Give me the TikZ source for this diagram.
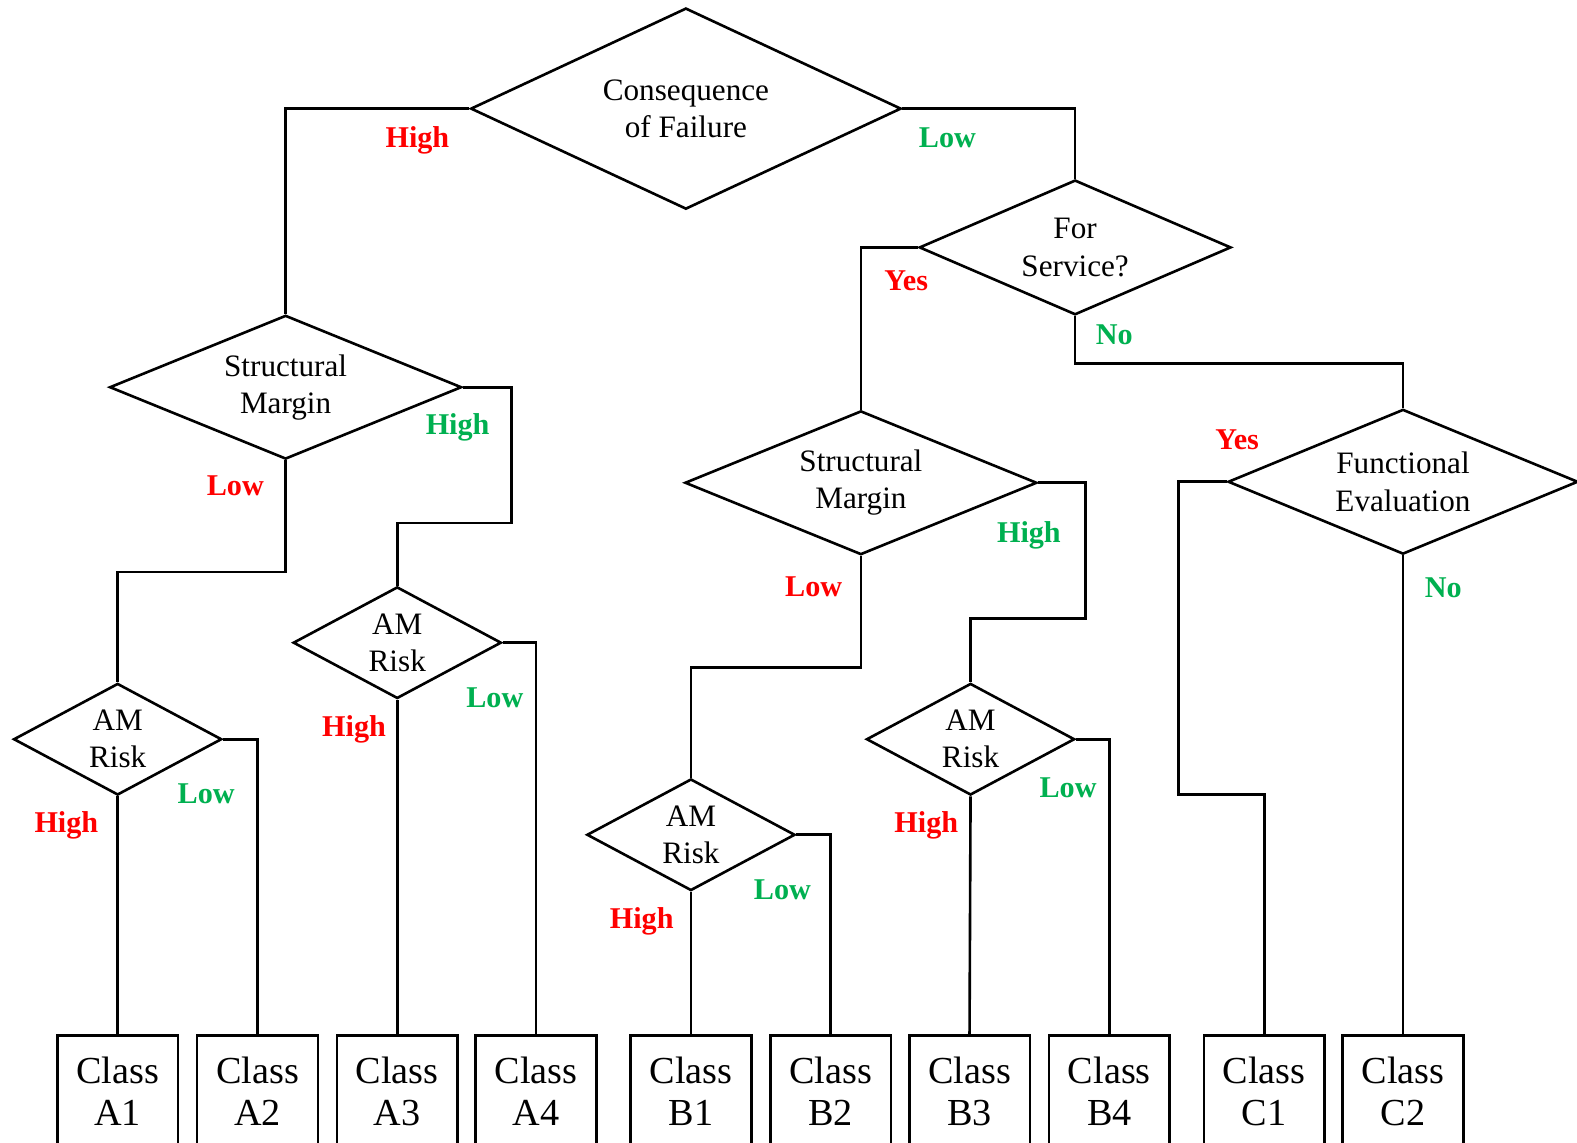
\documentclass[tikz,border=0pt]{standalone}
\usepackage{fontspec}
\setmainfont{Liberation Serif}
\usetikzlibrary{shapes.geometric}
\definecolor{lblred}{RGB}{255,0,0}
\definecolor{lblgreen}{RGB}{0,176,80}
\begin{document}
\begin{tikzpicture}[x=1pt,y=-1pt, line width=2.6pt,
  dec/.style={diamond, draw, inner sep=0pt, align=center, font=\fontsize{31}{37}\selectfont},
  bigdec/.style={dec, aspect=2.45, minimum width=350pt, minimum height=143pt},
  amdec/.style={dec, aspect=1.86, minimum width=207pt, minimum height=111pt},
  cls/.style={rectangle, draw, minimum width=120pt, minimum height=112pt, anchor=north, align=center, inner sep=0pt, font=\fontsize{38}{42}\selectfont},
  hi/.style={text=lblred, font=\bfseries\fontsize{30}{36}\selectfont, inner sep=0pt},
  lo/.style={text=lblgreen, font=\bfseries\fontsize{30}{36}\selectfont, inner sep=0pt},
  conn/.style={draw, line width=2.6pt}]
\useasboundingbox (0,0) rectangle (1568,1136);
\clip (0,0) rectangle (1568,1136);
% decisions
\node[dec, aspect=2.14, minimum width=428pt, minimum height=200pt] (cof) at (682,108) {Consequence\\of Failure};
\node[dec, aspect=2.31, minimum width=310pt, minimum height=134pt] (fs) at (1069,246) {For\\Service?};
\node[bigdec] (sm1) at (284,385) {Structural\\Margin};
\node[bigdec] (sm2) at (856,480) {Structural\\Margin};
\node[dec, aspect=2.42, minimum width=348pt, minimum height=144pt] (fe) at (1395,479) {Functional\\Evaluation};
\node[amdec] (am1) at (117,735) {AM\\Risk};
\node[amdec] (am2) at (395,639) {AM\\Risk};
\node[amdec] (am3) at (687,830) {AM\\Risk};
\node[amdec] (am4) at (965,735) {AM\\Risk};
% classes
\node[cls] (a1) at (117,1028) {Class\\A1};
\node[cls] (a2) at (256,1028) {Class\\A2};
\node[cls] (a3) at (395,1028) {Class\\A3};
\node[cls] (a4) at (533,1028) {Class\\A4};
\node[cls] (b1) at (687,1028) {Class\\B1};
\node[cls] (b2) at (826,1028) {Class\\B2};
\node[cls] (b3) at (964,1028) {Class\\B3};
\node[cls] (b4) at (1103,1028) {Class\\B4};
\node[cls] (c1) at (1257,1028) {Class\\C1};
\node[cls] (c2) at (1395,1028) {Class\\C2};
% connectors
\draw[conn] (cof.west) -| (sm1.north);
\draw[conn] (cof.east) -| (fs.north);
\draw[conn] (fs.west) -| (sm2.north);
\draw[conn] (fs.south) -- ++(0,47) -| (fe.north);
\draw[conn] (sm1.south) -- ++(0,111) -| (am1.north);
\draw[conn] (sm1.east) -- ++(48,0) -- ++(0,135) -| (am2.north);
\draw[conn] (sm2.south) -- ++(0,111) -| (am3.north);
\draw[conn] (sm2.east) -- ++(47,0) -- ++(0,135) -| (am4.north);
\draw[conn] (fe.west) -- ++(-48,0) -- ++(0,311) -| (c1.north);
\draw[conn] (fe.south) -- (c2.north);
\draw[conn] (am1.south) -- (a1.north);
\draw[conn] (am1.east) -| (a2.north);
\draw[conn] (am2.south) -- (a3.north);
\draw[conn] (am2.east) -| (a4.north);
\draw[conn] (am3.south) -- (b1.north);
\draw[conn] (am3.east) -| (b2.north);
\draw[conn] (am4.south) -- (b3.north);
\draw[conn] (am4.east) -| (b4.north);
% labels
\node[hi] (l1) at (415,140) {High};
\node[lo] (l2) at (942,137) {Low};
\node[hi] (l3) at (901,279) {Yes};
\node[lo] (l4) at (1108,333) {No};
\node[hi] (l5) at (234,483) {Low};
\node[lo] (l6) at (455,425) {High};
\node[hi] (l7) at (809,583) {Low};
\node[lo] (l8) at (1023,532) {High};
\node[hi] (l9) at (1230,437) {Yes};
\node[lo] (l10) at (1435,584) {No};
\node[hi] (l11) at (66,821) {High};
\node[lo] (l12) at (205,789) {Low};
\node[hi] (l13) at (352,725) {High};
\node[lo] (l14) at (492,694) {Low};
\node[hi] (l15) at (638,916) {High};
\node[lo] (l16) at (778,885) {Low};
\node[hi] (l17) at (921,821) {High};
\node[lo] (l18) at (1062,783) {Low};
\end{tikzpicture}
\end{document}
